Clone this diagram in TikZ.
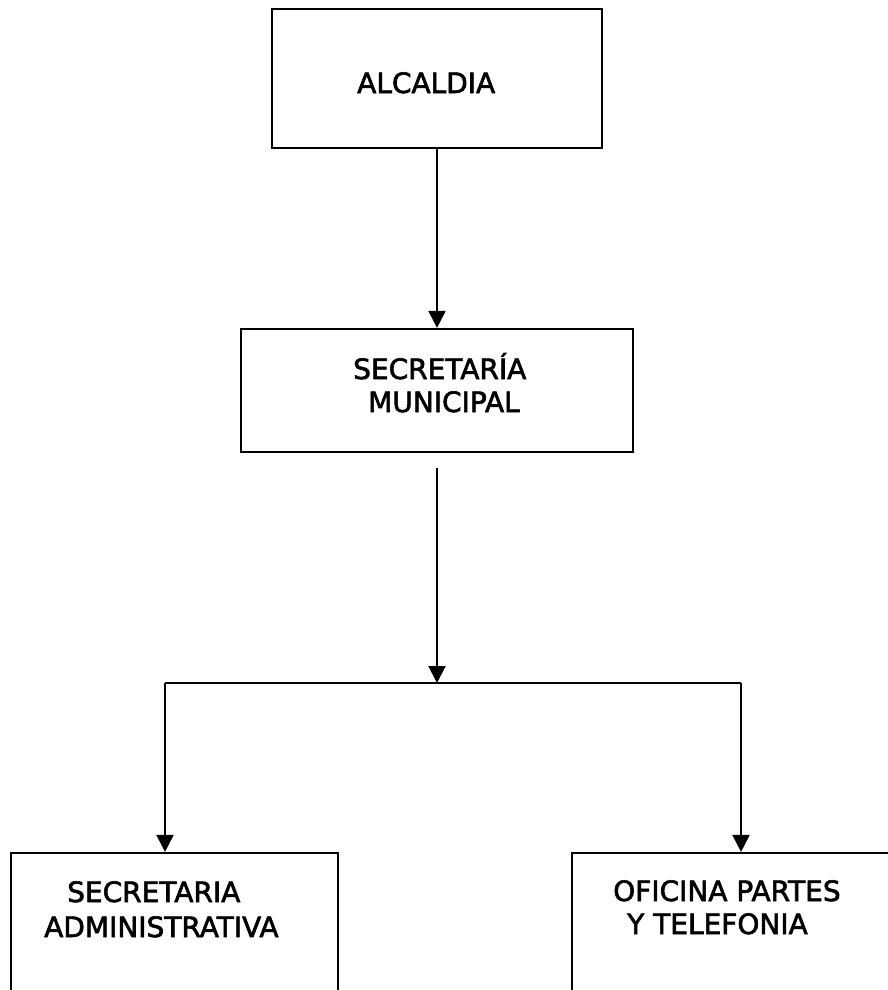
\documentclass[tikz,border=0pt]{standalone}
\usepackage{fontspec}
\setmainfont{DejaVu Sans}[FakeBold=2.2]
\usetikzlibrary{arrows.meta}

\tikzset{
  orgbox/.style={draw=black, line width=2.2pt, fill=white, inner sep=0pt},
  lbl/.style={anchor=base west, inner sep=0pt, font=\fontsize{28}{34}\selectfont},
  link/.style={draw=black, line width=2pt},
  linkarrow/.style={link, -{Triangle[width=17pt,length=17pt]}},
}

\begin{document}
\begin{tikzpicture}[x=1pt, y=-1pt]
  \useasboundingbox (0,0) rectangle (888,990);
  \clip (0,0) rectangle (888,990);

  % boxes (centres and sizes in pixel units, y downwards)
  \node[orgbox, minimum width=330pt, minimum height=139pt] (alc) at (437,78.5) {};
  \node[orgbox, minimum width=392pt, minimum height=123pt] (sec) at (437,390.5) {};
  \node[orgbox, minimum width=327pt, minimum height=180pt] (adm) at (174.5,943) {};
  \node[orgbox, minimum width=327pt, minimum height=180pt] (ofi) at (735.5,943) {};

  % labels
  \node[lbl] (t1) at (357,93) {ALCALDIA};
  \node[lbl] (t2) at (353,379) {SECRETARÍA};
  \node[lbl] (t3) at (368,412) {MUNICIPAL};
  \node[lbl] (t4) at (67,902) {SECRETARIA};
  \node[lbl] (t5) at (44,937) {ADMINISTRATIVA};
  \node[lbl] (t6) at (613,901) {OFICINA PARTES};
  \node[lbl] (t7) at (627,934) {Y TELEFONIA};

  % branching points
  \coordinate (stem) at (437,468);
  \coordinate (bar) at (437,683);
  \coordinate (barL) at (165,683);
  \coordinate (barR) at (741,683);

  % connectors
  \draw[linkarrow] (alc.south) -- (sec.north);
  \draw[linkarrow] (stem) -- (bar);
  \draw[link] (barL) -- (barR);
  \draw[linkarrow] (barL) -- (barL |- adm.north);
  \draw[linkarrow] (barR) -- (barR |- ofi.north);
\end{tikzpicture}
\end{document}
